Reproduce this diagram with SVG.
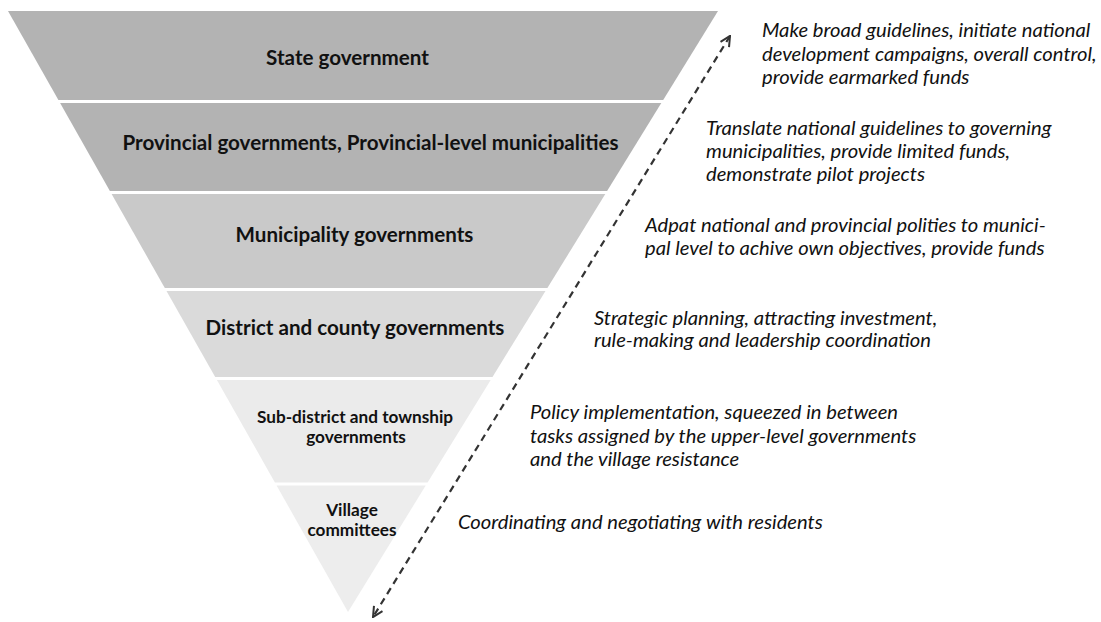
<svg xmlns="http://www.w3.org/2000/svg" width="1101" height="622" viewBox="0 0 1101 622">
<style>
.lbl{font-family:Lato,"Liberation Sans",sans-serif;font-weight:bold;fill:#111;text-anchor:middle}
.big{font-size:20.6px}
.small{font-size:17.2px}
.desc{font-family:Lato,"Liberation Sans",sans-serif;font-style:italic;font-size:20.2px;fill:#111}
.conn{fill:none;stroke:#333;stroke-width:2.2;stroke-dasharray:7 5}
</style>
<defs>
<marker id="ah" viewBox="0 0 12 12" refX="11" refY="6" markerWidth="12" markerHeight="12" markerUnits="userSpaceOnUse" orient="auto-start-reverse">
<path d="M1,1 L11,6 L1,11" fill="none" stroke="#333" stroke-width="2"/>
</marker>
</defs>
<rect width="1101" height="622" fill="#fff"/>
<g id="state">
<polygon points="8,11 718,11 663.2,100 58.4,100" fill="#b3b3b3"/>
<text class="lbl big" x="347.5" y="65">State government</text>
</g>
<g id="provincial">
<polygon points="60.1,103 661.3,103 607.1,191 109.9,191" fill="#b3b3b3"/>
<text class="lbl big" x="370.5" y="150">Provincial governments, Provincial-level municipalities</text>
</g>
<g id="municipality">
<polygon points="111.6,194 605.3,194 547.4,288 164.8,288" fill="#c9c9c9"/>
<text class="lbl big" x="354.5" y="242">Municipality governments</text>
</g>
<g id="district">
<polygon points="166.5,291 545.5,291 492.5,377 215.2,377" fill="#dadada"/>
<text class="lbl big" x="355" y="335">District and county governments</text>
</g>
<g id="subdistrict">
<polygon points="216.9,380 490.7,380 427.6,482.5 274.9,482.5" fill="#ebebeb"/>
<text class="lbl small" x="355" y="423">Sub-district and township</text>
<text class="lbl small" x="356" y="443">governments</text>
</g>
<g id="village">
<polygon points="276.6,485.5 425.7,485.5 348,612" fill="#ededed"/>
<text class="lbl small" x="352" y="516">Village</text>
<text class="lbl small" x="352" y="536">committees</text>
</g>
<g id="connectors">
<line class="conn" x1="730" y1="36" x2="373" y2="617" marker-start="url(#ah)" marker-end="url(#ah)"/>
</g>
<g id="descriptions">
<text class="desc" x="762" y="37">Make broad guidelines, initiate national</text>
<text class="desc" x="762" y="61">development campaigns, overall control,</text>
<text class="desc" x="762" y="84">provide earmarked funds</text>
<text class="desc" x="706" y="135">Translate national guidelines to governing</text>
<text class="desc" x="706" y="158">municipalities, provide limited funds,</text>
<text class="desc" x="706" y="181">demonstrate pilot projects</text>
<text class="desc" x="645" y="232">Adpat national and provincial polities to munici-</text>
<text class="desc" x="645" y="255">pal level to achive own objectives, provide funds</text>
<text class="desc" x="594" y="325">Strategic planning, attracting investment,</text>
<text class="desc" x="594" y="347">rule-making and leadership coordination</text>
<text class="desc" x="530" y="419">Policy implementation, squeezed in between</text>
<text class="desc" x="530" y="443">tasks assigned by the upper-level governments</text>
<text class="desc" x="530" y="466">and the village resistance</text>
<text class="desc" x="458" y="529">Coordinating and negotiating with residents</text>
</g>
</svg>
